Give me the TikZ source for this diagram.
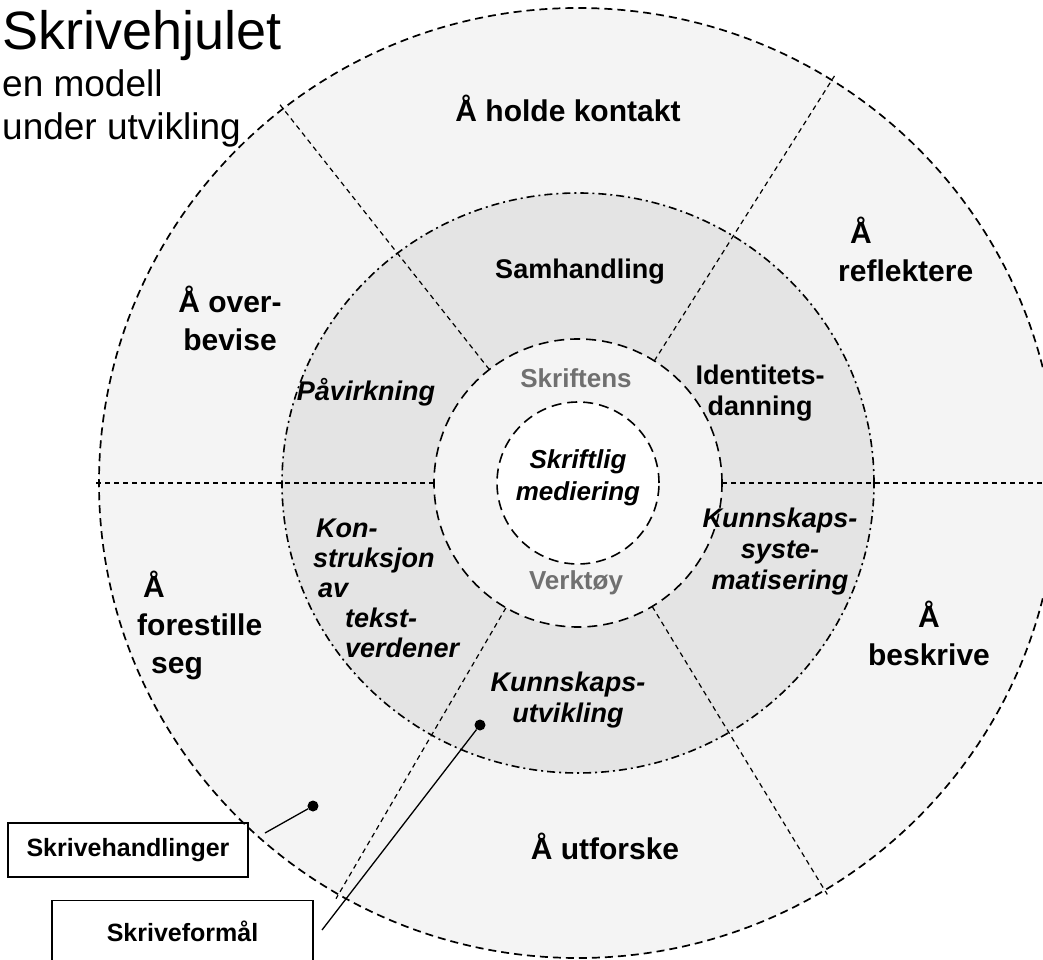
\documentclass[tikz,border=0pt]{standalone}
\usepackage{fontspec}
\setmainfont{Liberation Sans}
\usetikzlibrary{positioning}
\definecolor{outerfill}{HTML}{F4F4F4}
\definecolor{midfill}{HTML}{E4E4E4}
\definecolor{toolgray}{HTML}{707070}

\begin{document}
\begin{tikzpicture}[
        x=1pt, y=1pt,
        actlabel/.style={font=\fontsize{30}{38}\selectfont\bfseries, align=center, inner sep=0},
        aimlabel/.style={font=\fontsize{27}{31}\selectfont\bfseries, align=center, inner sep=0},
        aimitlabel/.style={font=\fontsize{27}{31}\selectfont\bfseries\itshape, align=center, inner sep=0},
        toollabel/.style={font=\fontsize{26}{31}\selectfont\bfseries, text=toolgray, inner sep=0},
        keybox/.style={draw, line width=1.5pt, font=\fontsize{25}{30}\selectfont\bfseries},
        divider/.style={line width=1.2pt, dash pattern=on 5pt off 4pt},
        dot/.style={circle, fill, inner sep=0, minimum size=11pt}
    ]
    \useasboundingbox (-578,-477) rectangle (465,483);

    % Wheel
    \draw[fill=outerfill, line width=1.7pt, dash pattern=on 8pt off 5pt]
        (0,0) ellipse [x radius=479, y radius=475];
    \fill[midfill] (0,0) ellipse [x radius=296, y radius=290];
    \foreach \a in {0,58,128,180,240,301}
        \draw[divider] (\a:144) -- ({484*cos(\a)},{480*sin(\a)});
    \draw[line width=1.6pt, dash pattern=on 8pt off 4pt on 2pt off 4pt]
        (0,0) ellipse [x radius=296, y radius=290];
    \draw[fill=outerfill, line width=1.6pt, dash pattern=on 10pt off 6pt] (0,0) circle (144);
    \draw[fill=white, line width=1.6pt, dash pattern=on 10pt off 6pt] (0,0) circle (81);

    % Title
    \node (title) [anchor=base west, inner sep=0, font=\fontsize{54}{60}\selectfont] at (-576,433) {Skrivehjulet};
    \node (sub1) [anchor=base west, inner sep=0, font=\fontsize{37}{43}\selectfont] at (-576,386) {en modell};
    \node (sub2) [anchor=base west, inner sep=0, font=\fontsize{37}{43}\selectfont] at (-576,343) {under utvikling};

    % Writing acts
    \node (kontakt) [actlabel] at (-10,375) {Å holde kontakt};
    \node (reflektere) [actlabel, align=left, anchor=west] at (260,234) {\hspace*{12pt}Å\\reflektere};
    \node (overbevise) [actlabel] at (-348,165) {Å over-\\bevise};
    \node (forestille) [actlabel, align=left, anchor=west] at (-441,-142) {\hspace*{6pt}Å\\forestille\\\hspace*{14pt}seg};
    \node (beskrive) [actlabel] at (351,-150) {Å\\beskrive};
    \node (utforske) [actlabel] at (27,-363) {Å utforske};

    % Writing purposes
    \node (samhandling) [aimlabel] at (2,211) {Samhandling};
    \node (pavirkning) [aimitlabel] at (-212,91) {Påvirkning};
    \node (identitet) [aimlabel] at (182,90) {Identitets-\\danning};
    \node (konstruksjon) [aimitlabel, align=left, anchor=west, font=\fontsize{27}{30}\selectfont\bfseries\itshape]
        at (-265,-105) {\hspace*{3pt}Kon-\\struksjon\\\hspace*{5pt}av\\\hspace*{32pt}tekst-\\\hspace*{32pt}verdener};
    \node (systematisering) [aimitlabel] at (202,-69) {Kunnskaps-\\syste-\\matisering};
    \node (utvikling) [aimitlabel] at (-10,-217) {Kunnskaps-\\utvikling};

    % Tool ring and centre
    \node (skriftens) [toollabel] at (-2,105) {Skriftens};
    \node (verktoy) [toollabel] at (-2,-100) {Verktøy};
    \node (mediering) [aimitlabel, font=\fontsize{26}{32}\selectfont\bfseries\itshape] at (0,5) {Skriftlig\\mediering};

    % Key
    \node (handlinger) [keybox, minimum width=240pt, minimum height=54pt] at (-450,-367) {Skrivehandlinger};
    \node (formal) [keybox, minimum width=261pt, minimum height=62pt,
        below=22pt of handlinger.south west, anchor=north west, xshift=44pt] {Skriveformål};
    \node (handdot) [dot] at (-265,-323) {};
    \node (formaldot) [dot] at (-98,-242) {};
    \coordinate (handend) at (-313,-350);
    \coordinate (formalend) at (-256,-447);

    % Edges
    \draw[line width=1.3pt] (handend) -- (handdot);
    \draw[line width=1.3pt] (formalend) -- (formaldot);

\end{tikzpicture}
\end{document}
